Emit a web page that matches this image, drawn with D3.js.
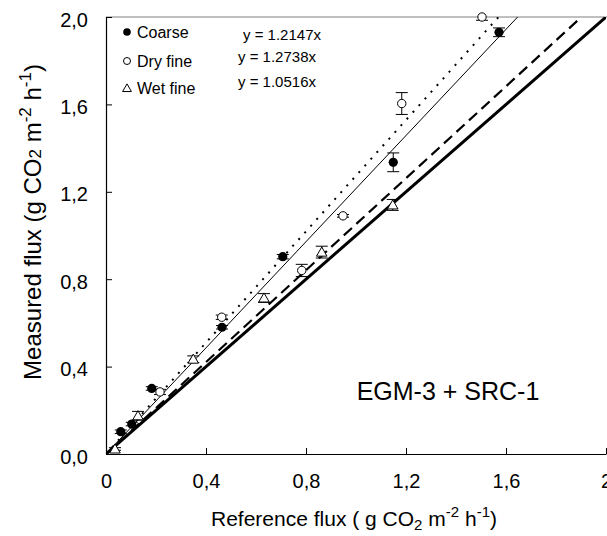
<!DOCTYPE html>
<html>
<head>
<meta charset="utf-8">
<script src="https://cdn.jsdelivr.net/npm/d3@7"></script>
<style>
body { margin: 0; background: #fff; }
svg { display: block; font-family: "Liberation Sans", Arial, sans-serif; }
</style>
</head>
<body>
<svg id="chart" width="607" height="536"></svg>
<script>
// ---- data ----
const xTicks = [0, 0.4, 0.8, 1.2, 1.6, 2.0];
const xTickLabels = ["0", "0,4", "0,8", "1,2", "1,6", "2"];
const yTicks = [0, 0.4, 0.8, 1.2, 1.6, 2.0];
const yTickLabels = ["0,0", "0,4", "0,8", "1,2", "1,6", "2,0"];

const coarseX = [0.059, 0.103, 0.183, 0.464, 0.707, 1.149, 1.572];
const coarseY = [0.102, 0.137, 0.300, 0.580, 0.903, 1.335, 1.930];
const coarseErr = [0.008, 0.008, 0.008, 0.008, 0.010, 0.043, 0.020];

const dryX = [0.216, 0.463, 0.783, 0.948, 1.183, 1.504];
const dryY = [0.284, 0.626, 0.840, 1.090, 1.604, 2.000];
const dryErr = [0.012, 0.010, 0.028, 0.006, 0.050, 0.015];

const wetX = [0.036, 0.128, 0.349, 0.632, 0.863, 1.147];
const wetY = [0.023, 0.175, 0.434, 0.714, 0.924, 1.140];
const wetErr = [0.006, 0.020, 0.015, 0.020, 0.027, 0.025];

const regSlopes = [1.2147, 1.2738, 1.0516];   // coarse, dry fine, wet fine
const regLabels = ["y = 1.2147x", "y = 1.2738x", "y = 1.0516x"];
const legendLabels = ["Coarse", "Dry fine", "Wet fine"];
const oneToOne = 1.0;

// ---- layout ----
const svg = d3.select("#chart");
const x = d3.scaleLinear().domain([0, 2]).range([106, 606]);
const y = d3.scaleLinear().domain([0, 2]).range([454, 17]);

// plot border top (grey)
svg.append("line").attr("x1", x(0)).attr("x2", 607).attr("y1", y(2)).attr("y2", y(2))
  .attr("stroke", "#808080").attr("stroke-width", 1);

// axes
const yAxis = d3.axisLeft(y).tickValues(yTicks).tickSizeInner(-6).tickSizeOuter(0)
  .tickFormat((d, i) => yTickLabels[i]).tickPadding(18);
const gy = svg.append("g").attr("transform", `translate(${x(0)},0)`).call(yAxis);
gy.select(".domain").attr("stroke", "#000").attr("stroke-width", 1.2);
gy.selectAll(".tick line").attr("stroke", "#000");
gy.selectAll(".tick text").attr("font-size", 20).attr("fill", "#000")
  .attr("font-family", "Liberation Sans, Arial, sans-serif").attr("dy", "0.45em");

const xAxis = d3.axisBottom(x).tickValues(xTicks).tickSizeInner(-6).tickSizeOuter(0)
  .tickFormat((d, i) => xTickLabels[i]).tickPadding(20);
const gx = svg.append("g").attr("transform", `translate(0,${y(0)})`).call(xAxis);
gx.select(".domain").attr("stroke", "#000").attr("stroke-width", 1.2);
gx.selectAll(".tick line").attr("stroke", "#000");
gx.selectAll(".tick text").attr("font-size", 20).attr("fill", "#000")
  .attr("font-family", "Liberation Sans, Arial, sans-serif");

// clip
svg.append("clipPath").attr("id", "clip").append("rect")
  .attr("x", x(0)).attr("y", y(2)).attr("width", x(2) - x(0)).attr("height", y(0) - y(2));
const plot = svg.append("g").attr("clip-path", "url(#clip)");
const marks = svg.append("g");

function lineEnd(s) { const xe = Math.min(2, 2 / s); return [[0, 0], [xe, xe * s]]; }
const lg = d3.line().x(d => x(d[0])).y(d => y(d[1]));

// 1:1 line thick
plot.append("path").attr("d", lg(lineEnd(oneToOne))).attr("stroke", "#000")
  .attr("stroke-width", 3).attr("fill", "none");
// wet fine dashed
plot.append("path").attr("d", lg(lineEnd(regSlopes[2]))).attr("stroke", "#000")
  .attr("stroke-width", 2.2).attr("stroke-dasharray", "11,6").attr("fill", "none");
// coarse thin solid
plot.append("path").attr("d", lg(lineEnd(regSlopes[0]))).attr("stroke", "#000")
  .attr("stroke-width", 1).attr("fill", "none");
// dry fine dotted
plot.append("path").attr("d", lg(lineEnd(regSlopes[1]))).attr("stroke", "#000")
  .attr("stroke-width", 2).attr("stroke-dasharray", "2,7").attr("fill", "none");

// error bars
function errBars(xs, ys, es) {
  const d = xs.map((v, i) => ({ x: v, y: ys[i], e: es[i] }));
  const g = plot.append("g").attr("stroke", "#000").attr("stroke-width", 1);
  d.forEach(p => {
    const yt = y(p.y + p.e), yb = y(p.y - p.e), cx = x(p.x);
    g.append("line").attr("x1", cx).attr("x2", cx).attr("y1", yt).attr("y2", yb);
    g.append("line").attr("x1", cx - 6).attr("x2", cx + 6).attr("y1", yt).attr("y2", yt);
    g.append("line").attr("x1", cx - 6).attr("x2", cx + 6).attr("y1", yb).attr("y2", yb);
  });
}
errBars(coarseX, coarseY, coarseErr);
errBars(dryX, dryY, dryErr);
errBars(wetX, wetY, wetErr);

const tri = d3.symbol().type(d3.symbolTriangle).size(48);

// markers
marks.selectAll(".wet").data(wetX.map((v, i) => [v, wetY[i]])).enter().append("path")
  .attr("d", tri).attr("transform", d => `translate(${x(d[0])},${y(d[1]) + 1})`)
  .attr("fill", "#fff").attr("stroke", "#000").attr("stroke-width", 1);
marks.selectAll(".dry").data(dryX.map((v, i) => [v, dryY[i]])).enter().append("circle")
  .attr("cx", d => x(d[0])).attr("cy", d => y(d[1])).attr("r", 4.2)
  .attr("fill", "#fff").attr("stroke", "#000").attr("stroke-width", 1);
marks.selectAll(".coarse").data(coarseX.map((v, i) => [v, coarseY[i]])).enter().append("circle")
  .attr("cx", d => x(d[0])).attr("cy", d => y(d[1])).attr("r", 4.6)
  .attr("fill", "#000");

// legend
const legY = [32, 61, 88];
const leg = svg.append("g").attr("font-size", 16).attr("fill", "#000");
leg.append("circle").attr("cx", 127).attr("cy", legY[0]).attr("r", 3.8).attr("fill", "#000");
leg.append("circle").attr("cx", 127).attr("cy", legY[1]).attr("r", 3.5).attr("fill", "#fff").attr("stroke", "#000");
leg.append("path").attr("d", d3.symbol().type(d3.symbolTriangle).size(34))
  .attr("transform", `translate(127,${legY[2] + 1})`).attr("fill", "#fff").attr("stroke", "#000");
legendLabels.forEach((t, i) => {
  leg.append("text").attr("x", 137).attr("y", legY[i]).attr("dy", "0.36em").text(t);
});
// equations
const eqX = [243, 238, 238];
const eqY = [35, 57, 82];
regLabels.forEach((t, i) => {
  svg.append("text").attr("x", eqX[i]).attr("y", eqY[i]).attr("dy", "0.36em")
    .attr("font-size", 15).text(t);
});

// annotation
svg.append("text").attr("x", 448).attr("y", 400).attr("text-anchor", "middle")
  .attr("font-size", 25).text("EGM-3 + SRC-1");

// axis titles
const xt = svg.append("text").attr("x", 354).attr("y", 526).attr("text-anchor", "middle")
  .attr("font-size", 21);
xt.append("tspan").text("Reference flux ( g CO");
xt.append("tspan").attr("font-size", 15).attr("dy", 4).text("2");
xt.append("tspan").attr("dy", -4).text(" m");
xt.append("tspan").attr("font-size", 15).attr("dy", -9).text("-2");
xt.append("tspan").attr("dy", 9).text(" h");
xt.append("tspan").attr("font-size", 15).attr("dy", -9).text("-1");
xt.append("tspan").attr("dy", 9).text(")");

const yt = svg.append("text").attr("transform", "translate(41,222) rotate(-90)")
  .attr("text-anchor", "middle").attr("font-size", 24);
yt.append("tspan").text("Measured flux (g CO");
yt.append("tspan").attr("font-size", 17).text("2");
yt.append("tspan").text(" m");
yt.append("tspan").attr("font-size", 17).attr("dy", -10).text("-2");
yt.append("tspan").attr("dy", 10).text(" h");
yt.append("tspan").attr("font-size", 17).attr("dy", -10).text("-1");
yt.append("tspan").attr("dy", 10).text(")");
</script>
</body>
</html>
